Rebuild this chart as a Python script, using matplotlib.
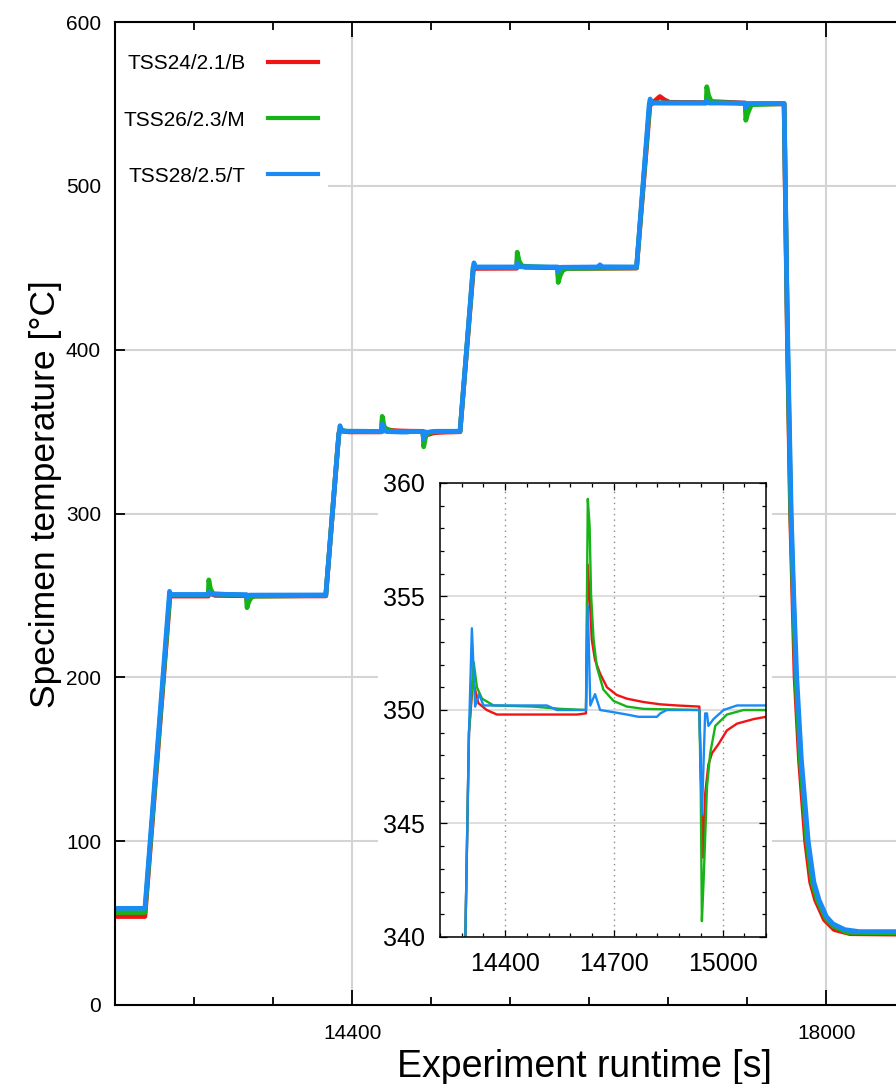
import matplotlib
matplotlib.use("Agg")
import numpy as np
import matplotlib.pyplot as plt
from matplotlib.ticker import MultipleLocator
from matplotlib.patches import Rectangle

# series labels and colours
labels = ["TSS24/2.1/B", "TSS26/2.3/M", "TSS28/2.5/T"]
colours = ["#f01414", "#16b416", "#1a8af5"]

# (runtime [s], temperature [degC])
red_pts = [
    (12600, 54), (12827, 54), (13017, 249.5), (13030, 249.6), (13308, 249.6), (13312, 253.5),
    (13330, 251), (13360, 250), (13598, 249.8), (13602, 246), (13620, 248.5), (13660, 249.6),
    (14200, 249.7), (14290, 340), (14300, 349), (14311, 351.3), (14326, 350.3), (14349, 350.0),
    (14377, 349.8), (14598, 349.8), (14623, 349.85), (14628, 356.4), (14635, 354.4), (14639, 353.1),
    (14648, 352.2), (14662, 351.6), (14681, 351.0), (14708, 350.66), (14736, 350.5), (14782, 350.35),
    (14828, 350.25), (14874, 350.2), (14936, 350.15), (14943, 345.4), (14946, 343.5), (14952, 346.3),
    (14961, 347.6), (14971, 348.1), (14989, 348.5), (15012, 349.1), (15040, 349.4), (15086, 349.6),
    (15120, 349.7), (15219, 349.9), (15320, 449), (15335, 449.6), (15649, 449.7), (15653, 455),
    (15672, 452), (15710, 450.3), (15960, 450), (15964, 444.5), (15985, 448), (16030, 449.6),
    (16559, 449.8), (16660, 549), (16700, 552), (16736, 554.5), (16770, 552.5), (16810, 551),
    (17088, 550.8), (17092, 554), (17115, 551.5), (17384, 550.5), (17388, 545.5), (17408, 548.5),
    (17450, 550), (17679, 550), (17682, 530), (17705, 400), (17728, 300), (17762, 200),
    (17795, 150), (17842, 100), (17880, 75), (17918, 64), (17985, 52), (18060, 46),
    (18180, 43.5), (18600, 43.2), (19720, 43.2),
]
green_pts = [
    (12600, 56.5), (12827, 56.5), (13016, 250.5), (13028, 250.2), (13308, 250.2), (13312, 259.5),
    (13325, 254), (13345, 251), (13598, 250), (13602, 242.5), (13615, 246), (13640, 249.5),
    (14200, 250), (14290, 340), (14300, 349), (14313, 352.1), (14322, 351.0), (14336, 350.5),
    (14368, 350.2), (14478, 350.15), (14552, 350.05), (14623, 350.0), (14628, 359.3), (14633, 358.1),
    (14637, 355.1), (14644, 353.1), (14653, 351.9), (14671, 350.9), (14699, 350.4), (14736, 350.15),
    (14782, 350.05), (14936, 350.0), (14940, 346.3), (14943, 340.7), (14948, 342.6), (14957, 346.6),
    (14966, 348.1), (14980, 349.3), (15012, 349.8), (15058, 350.0), (15219, 350.0), (15319, 450),
    (15330, 450.2), (15649, 450.2), (15653, 459.5), (15668, 454), (15690, 451), (15960, 450),
    (15964, 441), (15978, 445), (16005, 449.5), (16559, 450), (16658, 550), (16670, 550.6),
    (17088, 550.5), (17092, 560.5), (17106, 555), (17130, 551), (17384, 550.3), (17388, 540),
    (17402, 544), (17430, 549.5), (17679, 550.2), (17683, 530), (17706, 400), (17730, 300),
    (17768, 200), (17802, 150), (17852, 100), (17892, 75), (17932, 64), (17995, 53),
    (18055, 48), (18160, 44.3), (18600, 44), (19720, 44),
]
blue_pts = [
    (12600, 59), (12827, 59), (13014, 252.5), (13022, 250.6), (13308, 250.6), (13312, 252),
    (13330, 250.8), (13598, 250.5), (13602, 248.5), (13620, 250.2), (14200, 250.3), (14290, 340),
    (14300, 349), (14308, 353.6), (14317, 350.15), (14328, 350.7), (14340, 350.2), (14515, 350.2),
    (14543, 350.0), (14623, 350.0), (14628, 354.6), (14635, 350.2), (14648, 350.7), (14662, 350.0),
    (14700, 349.9), (14736, 349.8), (14768, 349.7), (14819, 349.7), (14828, 349.85), (14846, 350.0),
    (14936, 350.0), (14943, 345.4), (14952, 349.85), (14957, 349.85), (14961, 349.3), (14975, 349.6),
    (15003, 350.0), (15040, 350.2), (15219, 350.2), (15318, 450), (15325, 453), (15335, 450.5),
    (15649, 450.5), (15653, 453), (15670, 450.6), (15960, 450.5), (15964, 447.5), (15985, 450.3),
    (16270, 450.5), (16281, 451.8), (16300, 450.6), (16559, 450.5), (16655, 550), (16662, 553),
    (16672, 550.6), (17088, 550.6), (17092, 552), (17110, 550.5), (17384, 550.5), (17388, 548),
    (17405, 550.3), (17679, 550.3), (17683, 530), (17697, 450), (17708, 400), (17733, 300),
    (17752, 250), (17775, 200), (17810, 150), (17862, 100), (17905, 75), (17945, 64),
    (18000, 54), (18050, 49.5), (18140, 46), (18250, 44.8), (18600, 44.8), (19720, 44.8),
]
series = [red_pts, green_pts, blue_pts]

main_xlim = (12600, 19720)
main_ylim = (0, 600)
inset_xlim = (14220, 15120)
inset_ylim = (340, 360)

narrow = ["Liberation Sans Narrow", "Liberation Sans", "DejaVu Sans"]
plt.rcParams["font.family"] = ["Liberation Sans", "DejaVu Sans"]

W, H = 896, 1084
fig = plt.figure(figsize=(W / 100, H / 100), dpi=100)

# main axes (right part is cut off by the canvas, like the source image)
ax = fig.add_axes([115 / W, 1 - 1005 / H, (1053 - 115) / W, 983 / H])
for pts, c, lab in zip(series, colours, labels):
    arr = np.array(pts)
    ax.plot(arr[:, 0], arr[:, 1], color=c, lw=3.4, label=lab, solid_joinstyle="round")

ax.set_xlim(*main_xlim)
ax.set_ylim(*main_ylim)
ax.xaxis.set_major_locator(MultipleLocator(3600))
ax.xaxis.set_minor_locator(MultipleLocator(600))
ax.yaxis.set_major_locator(MultipleLocator(100))
ax.grid(which="major", color="#d4d4d4", lw=1.5)
ax.set_axisbelow(True)
for s in ["top", "left", "bottom"]:
    ax.spines[s].set_linewidth(1.5)
ax.spines["right"].set_visible(False)
ax.tick_params(axis="x", which="major", direction="in", top=True, length=11, width=1.3,
               pad=14, labelsize=15, labelfontfamily=narrow)
ax.tick_params(axis="x", which="minor", direction="in", top=True, length=6, width=1.3)
ax.tick_params(axis="y", which="major", direction="in", length=7, width=1.3,
               pad=10, labelsize=15, labelfontfamily=narrow)
ax.set_xlabel("Experiment runtime [s]", fontsize=27, labelpad=4)
ax.set_ylabel("Specimen temperature [°C]", fontsize=25.5)
ax.yaxis.set_label_coords(-0.057, 0.52)

leg = ax.legend(loc="upper right", bbox_to_anchor=(328 / W, 1 - 44 / H),
                bbox_transform=fig.transFigure, markerfirst=False, frameon=True,
                fancybox=False, edgecolor="none", facecolor="white", framealpha=1,
                prop={"family": narrow, "size": 15}, handlelength=2.4,
                handletextpad=1.05, labelspacing=1.78, borderpad=0.5, borderaxespad=0)
leg.set_zorder(2.4)  # keep the spine and ticks drawn over the white box
for h in leg.get_lines():
    h.set_linewidth(3)

# white patch behind the inset (breaks the main grid lines)
bg = Rectangle((378 / W, 1 - 985 / H), (772 - 378) / W, (985 - 465) / H,
               transform=fig.transFigure, facecolor="white", edgecolor="none", zorder=2)
fig.add_artist(bg)

ins = fig.add_axes([440 / W, 1 - 937 / H, 326 / W, 454 / H], zorder=3)
for pts, c in zip(series, colours):
    arr = np.array(pts)
    ins.plot(arr[:, 0], arr[:, 1], color=c, lw=1.7)
ins.set_xlim(*inset_xlim)
ins.set_ylim(*inset_ylim)
ins.xaxis.set_major_locator(MultipleLocator(300))
ins.xaxis.set_minor_locator(MultipleLocator(60))
ins.yaxis.set_major_locator(MultipleLocator(5))
ins.yaxis.set_minor_locator(MultipleLocator(1))
ins.yaxis.grid(True, which="major", color="#d8d8d8", lw=1.2)
ins.xaxis.grid(True, which="major", color="#8a8a8a", ls=(0, (1, 3)), lw=1)
ins.set_axisbelow(True)
for s in ins.spines.values():
    s.set_linewidth(1.1)
ins.tick_params(which="both", direction="in", top=True, right=True, width=0.9)
ins.tick_params(which="major", length=5, labelsize=18, pad=11)
ins.tick_params(which="minor", length=3)

fig.savefig("out.png", dpi=100)
